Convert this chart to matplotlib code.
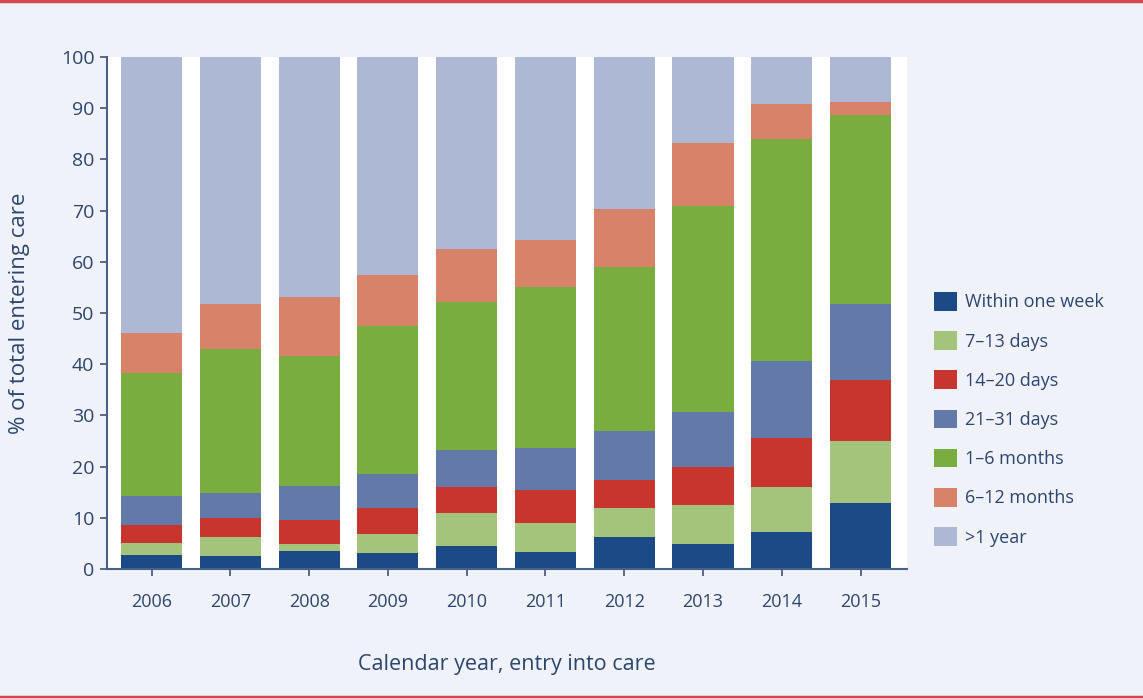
import numpy as np
import matplotlib
matplotlib.use("Agg")
import matplotlib.pyplot as plt
from matplotlib.lines import Line2D

# Data: share (%) of children entering care, by time to entry
years = ["2006", "2007", "2008", "2009", "2010", "2011", "2012", "2013", "2014", "2015"]
categories = ["Within one week", "7–13 days", "14–20 days", "21–31 days",
              "1–6 months", "6–12 months", ">1 year"]

within_week = [2.7, 2.5, 3.5, 3.1, 4.5, 3.4, 6.2, 4.8, 7.2, 12.8]
days_7_13 = [2.4, 3.7, 1.3, 3.7, 6.5, 5.5, 5.7, 7.7, 8.8, 12.2]
days_14_20 = [3.5, 3.7, 4.8, 5.1, 5.0, 6.5, 5.5, 7.5, 9.6, 12.0]
days_21_31 = [5.7, 4.9, 6.7, 6.7, 7.2, 8.3, 9.6, 10.6, 15.0, 14.8]
months_1_6 = [24.0, 28.1, 25.3, 28.9, 28.9, 31.3, 32.0, 40.3, 43.4, 36.8]
months_6_12 = [7.7, 8.9, 11.6, 10.0, 10.4, 9.3, 11.4, 12.4, 6.9, 2.6]
over_year = [54.0, 48.2, 46.8, 42.5, 37.5, 35.7, 29.6, 16.7, 9.1, 8.8]

series = [within_week, days_7_13, days_14_20, days_21_31, months_1_6, months_6_12, over_year]
colors = ["#1b4a87", "#a3c47a", "#c8352e", "#6279aa", "#79ad3f", "#d8826a", "#adb8d5"]

BG = "#eff2f8"
TXT = "#2c4571"
AXC = "#4a6088"

plt.rcParams["font.family"] = ["Open Sans", "DejaVu Sans"]

fig = plt.figure(figsize=(11.43, 6.98), dpi=100, facecolor=BG)
ax = fig.add_axes([0.0936, 0.1848, 0.70, 0.7335])
ax.set_facecolor("white")

x = np.arange(len(years))
bottom = np.zeros(len(years))
for vals, col, lab in zip(series, colors, categories):
    ax.bar(x, vals, width=0.775, bottom=bottom, color=col, edgecolor="none", label=lab)
    bottom += np.array(vals)

ax.set_xlim(-0.565, 9.59)
ax.set_ylim(0, 100)
ax.set_yticks(np.arange(0, 101, 10))
ax.set_xticks(x)
ax.set_xticklabels(years)

for s in ["top", "right"]:
    ax.spines[s].set_visible(False)
for s in ["left", "bottom"]:
    ax.spines[s].set_color(AXC)
    ax.spines[s].set_linewidth(1.5)
ax.tick_params(axis="both", colors=AXC, length=5, width=1.3, labelcolor=TXT)
ax.tick_params(axis="x", pad=12, labelsize=13)
ax.tick_params(axis="y", pad=4, labelsize=14)

ax.set_ylabel("% of total entering care", fontsize=16, color=TXT, labelpad=22)
ax.set_xlabel("Calendar year, entry into care", fontsize=15.5, color=TXT, labelpad=31)

h, l = ax.get_legend_handles_labels()
leg = fig.legend(h, l, loc="upper left", bbox_to_anchor=(934 / 1143, 1 - 292 / 698),
                 frameon=False, fontsize=13, handlelength=1.25, handleheight=1.2,
                 handletextpad=0.45, labelspacing=1.1, borderpad=0, borderaxespad=0)
for t in leg.get_texts():
    t.set_color(TXT)

# red rules at the top and bottom of the figure
fig.add_artist(Line2D([0, 1], [0.998, 0.998], transform=fig.transFigure, color="#d0474f", lw=2.5))
fig.add_artist(Line2D([0, 1], [0.002, 0.002], transform=fig.transFigure, color="#d0474f", lw=2.5))

fig.savefig("out.png", dpi=100, facecolor=BG)
